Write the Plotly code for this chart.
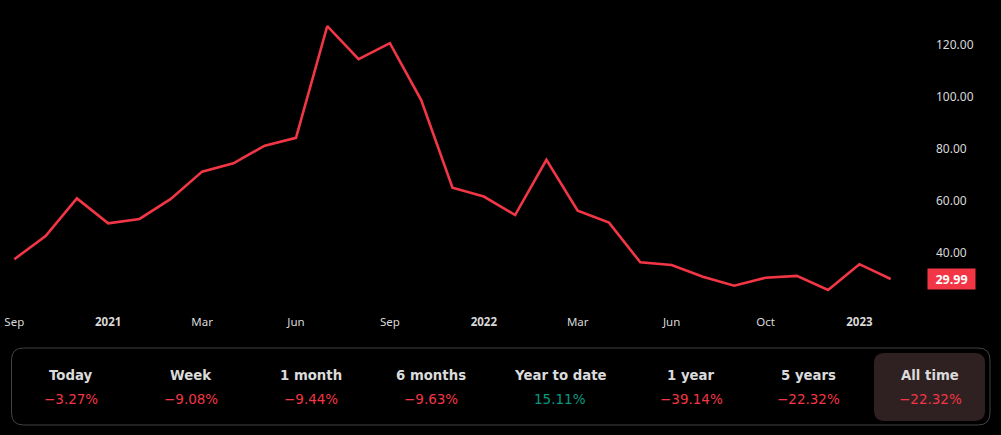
import plotly.graph_objects as go

# ---------------- data ----------------
values = [37.6, 46.5, 61.0, 51.4, 53.1, 60.8, 71.3, 74.5, 81.3, 84.3,
          127.3, 114.6, 120.7, 98.8, 65.1, 61.7, 54.6, 75.8, 56.3, 51.7,
          36.4, 35.4, 30.9, 27.4, 30.5, 31.2, 25.8, 35.7, 29.99]
tick_labels = ["Sep", "<b>2021</b>", "Mar", "Jun", "Sep", "<b>2022</b>",
               "Mar", "Jun", "Oct", "<b>2023</b>"]
tick_step = 3
y_ticks = [40, 60, 80, 100, 120]

periods = ["Today", "Week", "1 month", "6 months", "Year to date",
           "1 year", "5 years", "All time"]
changes = [-3.27, -9.08, -9.44, -9.63, 15.11, -39.14, -22.32, -22.32]
selected_period = "All time"

# ---------------- layout constants ----------------
W, H = 1001, 435
RED = "#f23645"
GREEN = "#089981"
TXT = "#d9d9d9"
FONT = "Noto Sans"
PANEL_FONT = "DejaVu Sans"


def px(x):
    return x / W


def py(y):
    return 1 - y / H


# plot area in pixels
PL, PR, PT, PB = 0, 925, 15, 300
X0_PX, DX_PX = 14.3, 31.3          # first point pixel x, spacing
Y_REF_PX, Y_REF_V, PX_PER_UNIT = 253, 40, 2.6

x = list(range(len(values)))
xr = [(PL - X0_PX) / DX_PX, (PR - X0_PX) / DX_PX]
yr = [Y_REF_V - (PB - Y_REF_PX) / PX_PER_UNIT, Y_REF_V + (Y_REF_PX - PT) / PX_PER_UNIT]

fig = go.Figure()
fig.add_trace(go.Scatter(x=x, y=values, mode="lines",
                         line=dict(color=RED, width=2.6), hoverinfo="skip"))

fig.update_layout(
    width=W, height=H,
    margin=dict(l=0, r=0, t=0, b=0),
    paper_bgcolor="#000000", plot_bgcolor="#000000",
    showlegend=False,
    font=dict(family=FONT, color=TXT),
    xaxis=dict(domain=[px(PL), px(PR)], range=xr, showgrid=False, zeroline=False,
               showline=False, tickmode="array",
               tickvals=x[::tick_step], ticktext=tick_labels,
               tickfont=dict(size=11.5, color=TXT), ticks="", ticklabelstandoff=13,
               fixedrange=True),
    yaxis=dict(domain=[py(PB), py(PT)], range=yr, side="right", showgrid=False,
               zeroline=False, showline=False, tickmode="array", tickvals=y_ticks,
               tickformat=".2f", tickfont=dict(size=12, color=TXT), ticks="",
               ticklabelstandoff=10, fixedrange=True),
)

# last price label
last = values[-1]
fig.add_annotation(xref="paper", yref="y", x=px(927), y=last, xanchor="left",
                   yanchor="middle", text=f"<b>{last:.2f}</b>", showarrow=False,
                   bgcolor=RED, width=45, height=18, borderpad=1,
                   font=dict(size=12.5, color="#ffffff", family=FONT), align="center")
fig.add_shape(type="line", xref="paper", yref="y", x0=px(928), x1=px(932),
              y0=last, y1=last, line=dict(color="#ffffff", width=1))


def rounded(x0, y0, x1, y1, r):
    def P(a, b):
        return f"{px(a):.6f},{py(b):.6f}"
    return (f"M {P(x0 + r, y0)} L {P(x1 - r, y0)} Q {P(x1, y0)} {P(x1, y0 + r)} "
            f"L {P(x1, y1 - r)} Q {P(x1, y1)} {P(x1 - r, y1)} "
            f"L {P(x0 + r, y1)} Q {P(x0, y1)} {P(x0, y1 - r)} "
            f"L {P(x0, y0 + r)} Q {P(x0, y0)} {P(x0 + r, y0)} Z")


# stats panel
fig.add_shape(type="path", xref="paper", yref="paper",
              path=rounded(11.5, 348, 990, 425, 12),
              line=dict(color="#434343", width=1), fillcolor="rgba(0,0,0,0)")

col_centers = [71, 191, 311, 431, 560, 691, 808, 930]
sel_idx = periods.index(selected_period)
sc = col_centers[sel_idx]
fig.add_shape(type="path", xref="paper", yref="paper",
              path=rounded(sc - 56, 353, sc + 55, 421, 10),
              line=dict(width=0), fillcolor="#2f2022")

for c, p, v in zip(col_centers, periods, changes):
    fig.add_annotation(xref="paper", yref="paper", x=px(c), y=py(375),
                       text=f"<b>{p}</b>", showarrow=False, xanchor="center",
                       yanchor="middle",
                       font=dict(size=13.3, color="#dbdbdb", family=PANEL_FONT))
    s = f"{v:.2f}%" if v >= 0 else f"\u2212{abs(v):.2f}%"
    fig.add_annotation(xref="paper", yref="paper", x=px(c), y=py(399),
                       text=s, showarrow=False, xanchor="center", yanchor="middle",
                       font=dict(size=13.5, color=GREEN if v >= 0 else RED,
                                 family=PANEL_FONT))

fig.write_html("out.html", config={"displayModeBar": False})
